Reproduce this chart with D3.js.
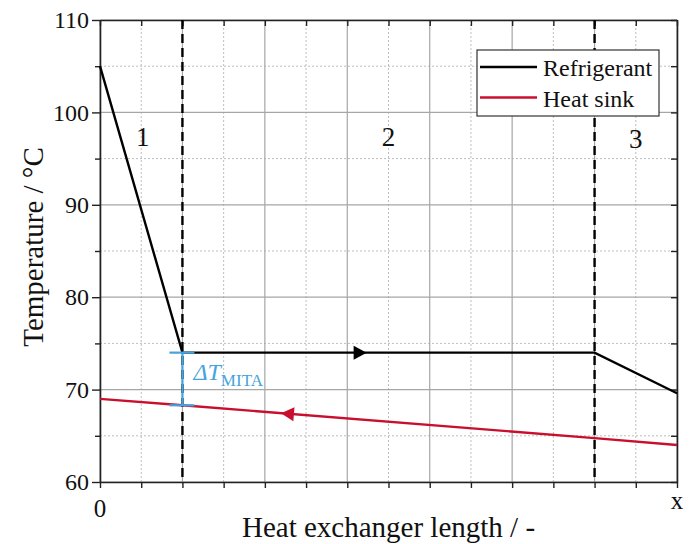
<!DOCTYPE html>
<html>
<head>
<meta charset="utf-8">
<script src="https://cdn.jsdelivr.net/npm/d3@7"></script>
<style>
  html, body { margin: 0; padding: 0; background: #fff; }
  svg { display: block; font-family: "Liberation Serif", "Times New Roman", serif; }
</style>
</head>
<body>
<svg id="chart" width="696" height="544"></svg>
<script>
// ---- data ----
const xDomain = [0, 7];
const yDomain = [60, 110];
const xTickValues = [0, 7];
const xTickLabels = ["0", "x"];
const yTickValues = [60, 70, 80, 90, 100, 110];
const refX = [0, 1, 6, 7];
const refT = [105, 74, 74, 69.6];
const sinkX = [0, 1, 6, 7];
const sinkT = [69, 68.3, 64.75, 64];
const boundaries = [1, 6];
const regionLabels = ["1", "2", "3"];
const regionX = [0.52, 3.5, 6.5];
const regionT = [96.4, 96.4, 96.1];
const refArrowX = 3.15;
const sinkArrowX = 2.28;
const mitaX = 1;
const mitaTop = 74;
const mitaBottom = 68.3;
const seriesNames = ["Refrigerant", "Heat sink"];
const seriesColors = ["#000000", "#c8102e"];
const mitaColor = "#45a3de";

// ---- layout ----
const svg = d3.select("#chart");
const pL = 100, pR = 677, pT = 20, pB = 482;
const x = d3.scaleLinear().domain(xDomain).range([pL, pR]);
const y = d3.scaleLinear().domain(yDomain).range([pB, pT]);

const xMajor = d3.range(xDomain[0], xDomain[1] + 0.001, 1);
const xMinor = d3.range(xDomain[0] + 0.5, xDomain[1], 1);
const yMajor = d3.range(yDomain[0], yDomain[1] + 0.001, 10);
const yMinor = d3.range(yDomain[0] + 5, yDomain[1], 10);

// grid
const gridG = svg.append("g");
gridG.selectAll(".vminor").data(xMinor).join("line")
  .attr("x1", d => x(d)).attr("x2", d => x(d)).attr("y1", pT).attr("y2", pB)
  .attr("stroke", "#bdbdbd").attr("stroke-width", 1).attr("stroke-dasharray", "2,2");
gridG.selectAll(".hminor").data(yMinor).join("line")
  .attr("x1", pL).attr("x2", pR).attr("y1", d => y(d)).attr("y2", d => y(d))
  .attr("stroke", "#bdbdbd").attr("stroke-width", 1).attr("stroke-dasharray", "2,2");
gridG.selectAll(".vmajor").data(xMajor).join("line")
  .attr("x1", d => x(d)).attr("x2", d => x(d)).attr("y1", pT).attr("y2", pB)
  .attr("stroke", "#a6a6a6").attr("stroke-width", 1.2);
gridG.selectAll(".hmajor").data(yMajor).join("line")
  .attr("x1", pL).attr("x2", pR).attr("y1", d => y(d)).attr("y2", d => y(d))
  .attr("stroke", "#a6a6a6").attr("stroke-width", 1.2);

// axes
const axisColor = "#222";
function styleAxis(sel) {
  sel.select(".domain").attr("stroke", axisColor).attr("stroke-width", 1.6);
  sel.selectAll(".tick line").attr("stroke", axisColor).attr("stroke-width", 1.4);
  sel.selectAll("text").attr("fill", "#111").attr("font-family", "Liberation Serif, Times New Roman, serif");
}
const allX = xMajor.concat(xMinor);
const allY = yMajor.concat(yMinor);

// bottom ticks (outward), labels only at ends
const bottomAxis = svg.append("g").attr("transform", `translate(0,${pB})`)
  .call(d3.axisBottom(x).tickValues(allX).tickSize(6).tickSizeOuter(0).tickFormat(""));
styleAxis(bottomAxis);
const bl = svg.append("g");
bl.selectAll("text").data(xTickValues).join("text")
  .attr("x", d => x(d))
  .attr("y", (d, i) => i === 0 ? 517 : 509)
  .attr("text-anchor", "middle").attr("font-size", 25).attr("fill", "#111")
  .text((d, i) => xTickLabels[i]);

// top ticks (inward)
const topAxis = svg.append("g").attr("transform", `translate(0,${pT})`)
  .call(d3.axisBottom(x).tickValues(allX).tickSize(6).tickSizeOuter(0).tickFormat(""));
styleAxis(topAxis);

// left axis (outward)
const leftAxis = svg.append("g").attr("transform", `translate(${pL},0)`)
  .call(d3.axisLeft(y).tickValues(yTickValues).tickSize(8).tickSizeOuter(0).tickPadding(3).tickFormat(d3.format("d")));
styleAxis(leftAxis);
leftAxis.selectAll("text").attr("font-size", 24);
const leftMinor = svg.append("g").attr("transform", `translate(${pL},0)`)
  .call(d3.axisLeft(y).tickValues(yMinor).tickSize(5).tickSizeOuter(0).tickFormat(""));
styleAxis(leftMinor);
leftMinor.select(".domain").remove();

// right axis (inward)
const rightAxis = svg.append("g").attr("transform", `translate(${pR},0)`)
  .call(d3.axisLeft(y).tickValues(allY).tickSize(6).tickSizeOuter(0).tickFormat(""));
styleAxis(rightAxis);

// region boundaries
svg.append("g").selectAll("line").data(boundaries).join("line")
  .attr("x1", d => x(d)).attr("x2", d => x(d)).attr("y1", pT).attr("y2", pB)
  .attr("stroke", "#000").attr("stroke-width", 2.4).attr("stroke-dasharray", "9,5");

// lines
const line = d3.line().x(d => x(d[0])).y(d => y(d[1]));
const refData = refX.map((v, i) => [v, refT[i]]);
const sinkData = sinkX.map((v, i) => [v, sinkT[i]]);
svg.append("path").datum(sinkData).attr("d", line)
  .attr("fill", "none").attr("stroke", seriesColors[1]).attr("stroke-width", 2.4);
svg.append("path").datum(refData).attr("d", line)
  .attr("fill", "none").attr("stroke", seriesColors[0]).attr("stroke-width", 2.4);

// interpolation helper
function interp(xs, ys, xv) {
  for (let i = 0; i < xs.length - 1; i++) {
    if (xv >= xs[i] && xv <= xs[i + 1]) {
      const t = (xv - xs[i]) / (xs[i + 1] - xs[i]);
      return ys[i] + t * (ys[i + 1] - ys[i]);
    }
  }
  return ys[ys.length - 1];
}
// arrows
const ax1 = x(refArrowX), ay1 = y(interp(refX, refT, refArrowX));
svg.append("path")
  .attr("d", `M${ax1 + 7},${ay1} L${ax1 - 6},${ay1 - 7} L${ax1 - 6},${ay1 + 7} Z`)
  .attr("fill", seriesColors[0]);
const sy0 = interp(sinkX, sinkT, sinkArrowX);
const ax2 = x(sinkArrowX), ay2 = y(sy0);
const slope = (y(interp(sinkX, sinkT, sinkArrowX + 0.1)) - ay2) / (x(sinkArrowX + 0.1) - ax2);
const ang = Math.atan(slope) * 180 / Math.PI;
svg.append("path")
  .attr("d", `M-7,0 L6,-7 L6,7 Z`)
  .attr("transform", `translate(${ax2},${ay2}) rotate(${ang})`)
  .attr("fill", seriesColors[1]);

// ΔT MITA bracket
const mg = svg.append("g").attr("stroke", mitaColor).attr("stroke-width", 2.2);
mg.append("line").attr("x1", x(mitaX)).attr("x2", x(mitaX)).attr("y1", y(mitaTop)).attr("y2", y(mitaBottom));
mg.selectAll(".cap").data([mitaTop, mitaBottom]).join("line")
  .attr("x1", x(mitaX) - 13).attr("x2", x(mitaX) + 12).attr("y1", d => y(d)).attr("y2", d => y(d));
const mt = svg.append("text").attr("x", x(mitaX) + 11).attr("y", 380)
  .attr("fill", mitaColor).attr("font-size", 24);
mt.append("tspan").attr("font-style", "italic").text("ΔT");
mt.append("tspan").attr("font-size", 17).attr("dy", 6).text("MITA");

// region labels
svg.append("g").selectAll("text").data(regionLabels).join("text")
  .attr("x", (d, i) => x(regionX[i])).attr("y", (d, i) => y(regionT[i]))
  .attr("text-anchor", "middle").attr("font-size", 27).attr("fill", "#111")
  .text(d => d);

// legend
const lg = svg.append("g");
lg.append("rect").attr("x", 477).attr("y", 50).attr("width", 182).attr("height", 66)
  .attr("fill", "#fff").attr("stroke", "#333").attr("stroke-width", 1.2);
const items = lg.selectAll(".item").data(seriesNames).join("g")
  .attr("transform", (d, i) => `translate(0,${67 + i * 30.5})`);
items.append("line").attr("x1", 480).attr("x2", 537).attr("y1", 0).attr("y2", 0)
  .attr("stroke", (d, i) => seriesColors[i]).attr("stroke-width", 2.4);
items.append("text").attr("x", 543).attr("y", 9).attr("font-size", 24).attr("fill", "#111").text(d => d);

// axis titles
svg.append("text").attr("x", (pL + pR) / 2).attr("y", 537).attr("text-anchor", "middle")
  .attr("font-size", 29).attr("fill", "#111").text("Heat exchanger length / -");
svg.append("text").attr("transform", `translate(43,247) rotate(-90)`).attr("text-anchor", "middle")
  .attr("font-size", 29).attr("fill", "#111").text("Temperature / °C");
</script>
</body>
</html>
